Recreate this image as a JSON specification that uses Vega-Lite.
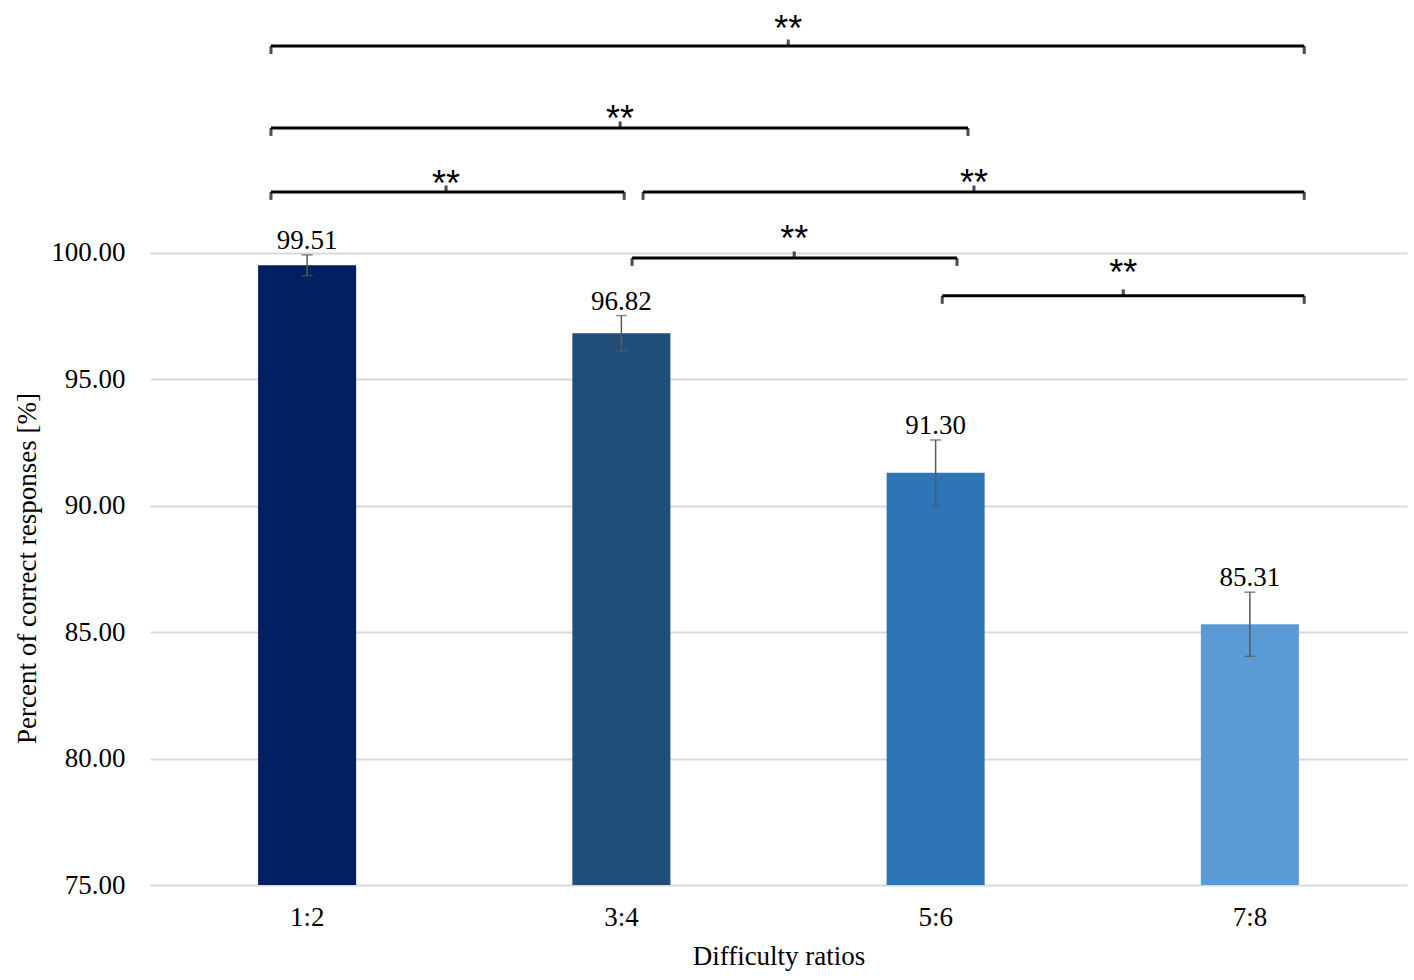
{
  "$schema": "https://vega.github.io/schema/vega-lite/v6.json",
  "width": 1257,
  "height": 885,
  "autosize": "none",
  "padding": {"left": 150, "top": 0, "right": 7, "bottom": 95},
  "background": "white",
  "datasets": {
    "bars": [
      {"ratio": "1:2", "value": 99.51, "lo": 99.10, "hi": 99.92},
      {"ratio": "3:4", "value": 96.82, "lo": 96.12, "hi": 97.52},
      {"ratio": "5:6", "value": 91.30, "lo": 90.00, "hi": 92.60},
      {"ratio": "7:8", "value": 85.31, "lo": 84.04, "hi": 86.58}
    ],
    "brackets": [
      {"x1": -0.115, "x2": 3.173, "y": 108.18, "mid": 1.531, "starY": 109.17},
      {"x1": -0.115, "x2": 2.103, "y": 104.94, "mid": 0.996, "starY": 105.61},
      {"x1": -0.115, "x2": 1.009, "y": 102.41, "mid": 0.442, "starY": 103.04},
      {"x1": 1.069, "x2": 3.173, "y": 102.41, "mid": 2.122, "starY": 103.08},
      {"x1": 1.034, "x2": 2.068, "y": 99.80, "mid": 1.55, "starY": 100.87},
      {"x1": 2.021, "x2": 3.173, "y": 98.30, "mid": 2.597, "starY": 99.53}
    ]
  },
  "layer": [
    {
      "data": {"name": "bars"},
      "encoding": {
        "x": {
          "field": "ratio",
          "type": "nominal",
          "sort": null,
          "scale": {"paddingInner": 0.688, "paddingOuter": 0.344},
          "axis": {
            "title": "Difficulty ratios",
            "labelAngle": 0,
            "labelFont": "Liberation Serif",
            "labelFontSize": 27,
            "labelColor": "#000000",
            "labelPadding": 19,
            "titleFont": "Liberation Serif",
            "titleFontSize": 27,
            "titleFontWeight": "normal",
            "titleColor": "#000000",
            "titlePadding": 13,
            "ticks": false,
            "domain": false
          }
        }
      },
      "layer": [
        {
          "mark": {"type": "bar"},
          "encoding": {
            "y": {
              "field": "value",
              "type": "quantitative",
              "scale": {"domain": [75, 110], "nice": false, "zero": false},
              "axis": {
                "title": "Percent of correct responses [%]",
                "values": [75, 80, 85, 90, 95, 100],
                "format": ".2f",
                "labelFont": "Liberation Serif",
                "labelFontSize": 27,
                "labelColor": "#000000",
                "labelPadding": 25,
                "titleFont": "Liberation Serif",
                "titleFontSize": 27,
                "titleFontWeight": "normal",
                "titleColor": "#000000",
                "titleBaseline": "middle",
                "titleX": -123,
                "titleY": 568,
                "ticks": false,
                "domain": false,
                "grid": true,
                "gridColor": "#d9d9d9",
                "gridWidth": 2
              }
            },
            "y2": {"datum": 75},
            "color": {
              "field": "ratio",
              "type": "nominal",
              "scale": {
                "domain": ["1:2", "3:4", "5:6", "7:8"],
                "range": ["#002060", "#1f4e79", "#2e75b6", "#5b9bd5"]
              },
              "legend": null
            }
          }
        },
        {
          "mark": {"type": "rule", "color": "#595959", "strokeWidth": 1.5},
          "encoding": {
            "y": {"field": "lo", "type": "quantitative"},
            "y2": {"field": "hi"}
          }
        },
        {
          "mark": {"type": "tick", "orient": "horizontal", "color": "#595959", "size": 11, "thickness": 1.5},
          "encoding": {"y": {"field": "lo", "type": "quantitative"}}
        },
        {
          "mark": {"type": "tick", "orient": "horizontal", "color": "#595959", "size": 11, "thickness": 1.5},
          "encoding": {"y": {"field": "hi", "type": "quantitative"}}
        },
        {
          "mark": {"type": "text", "font": "Liberation Serif", "fontSize": 27, "color": "#000000", "baseline": "alphabetic", "dy": -6},
          "encoding": {
            "y": {"field": "hi", "type": "quantitative"},
            "text": {"field": "value", "type": "quantitative", "format": ".2f"}
          }
        }
      ]
    },
    {
      "data": {"name": "brackets"},
      "encoding": {
        "x": {
          "field": "x1",
          "type": "quantitative",
          "scale": {"domain": [-0.5, 3.5], "nice": false, "zero": false},
          "axis": null
        }
      },
      "layer": [
        {
          "mark": {"type": "rule", "color": "#000000", "strokeWidth": 3},
          "encoding": {
            "x2": {"field": "x2"},
            "y": {"field": "y", "type": "quantitative"}
          }
        },
        {
          "mark": {"type": "tick", "orient": "vertical", "color": "#000000", "size": 8, "thickness": 3, "yOffset": 4},
          "encoding": {"y": {"field": "y", "type": "quantitative"}}
        },
        {
          "mark": {"type": "tick", "orient": "vertical", "color": "#000000", "size": 8, "thickness": 3, "yOffset": 4},
          "encoding": {
            "x": {"field": "x2", "type": "quantitative"},
            "y": {"field": "y", "type": "quantitative"}
          }
        },
        {
          "mark": {"type": "tick", "orient": "vertical", "color": "#000000", "size": 7, "thickness": 3, "yOffset": -3},
          "encoding": {
            "x": {"field": "mid", "type": "quantitative"},
            "y": {"field": "y", "type": "quantitative"}
          }
        },
        {
          "mark": {"type": "text", "text": "**", "font": "Liberation Sans", "fontSize": 36, "color": "#000000", "baseline": "alphabetic", "dy": 20},
          "encoding": {
            "x": {"field": "mid", "type": "quantitative"},
            "y": {"field": "starY", "type": "quantitative"}
          }
        }
      ]
    }
  ],
  "resolve": {"scale": {"x": "independent", "color": "independent"}, "axis": {"x": "independent"}},
  "config": {"view": {"stroke": null}}
}
